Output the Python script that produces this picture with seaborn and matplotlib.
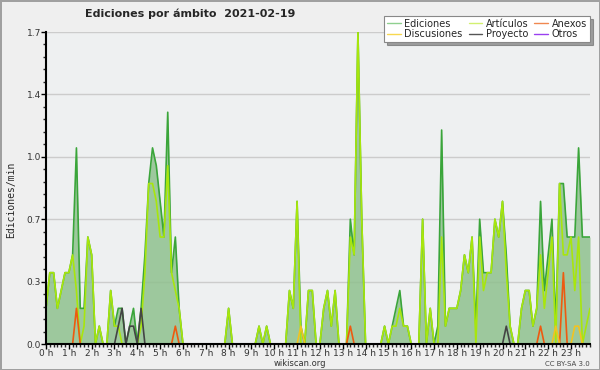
import numpy as np
import pandas as pd
import seaborn as sns
import matplotlib
matplotlib.use("Agg")
import matplotlib.pyplot as plt
from matplotlib.ticker import MultipleLocator, FixedLocator, FuncFormatter
from matplotlib.lines import Line2D

# edits per minute, one value every 10 minutes (00:00 .. 23:50)
ediciones = [
    0.2, 0.4, 0.4, 0.2, 0.3, 0.4, 0.4, 0.5, 1.1, 0.2, 0.2, 0.6,
    0.5, 0, 0.1, 0, 0, 0.3, 0.1, 0.2, 0.2, 0, 0.1, 0.2,
    0, 0.2, 0.5, 0.9, 1.1, 1.0, 0.8, 0.6, 1.3, 0.4, 0.6, 0.2,
    0, 0, 0, 0, 0, 0, 0, 0, 0, 0, 0, 0,
    0.2, 0, 0, 0, 0, 0, 0, 0, 0.1, 0, 0.1, 0,
    0, 0, 0, 0, 0.3, 0.2, 0.8, 0.1, 0, 0.3, 0.3, 0,
    0, 0.2, 0.3, 0.1, 0.3, 0, 0, 0, 0.7, 0.5, 1.75, 0.7,
    0, 0, 0, 0, 0, 0.1, 0, 0.1, 0.2, 0.3, 0.1, 0.1,
    0, 0, 0, 0.7, 0, 0.2, 0, 0.1, 1.2, 0.1, 0.2, 0.2,
    0.2, 0.3, 0.5, 0.4, 0.6, 0.1, 0.7, 0.4, 0.4, 0.4, 0.7, 0.6,
    0.8, 0.5, 0.1, 0, 0, 0.2, 0.3, 0.3, 0.1, 0.2, 0.8, 0.3,
    0.5, 0.7, 0.1, 0.9, 0.9, 0.6, 0.6, 0.6, 1.1, 0.6, 0.6, 0.6,
]
articulos = [
    0.2, 0.4, 0.4, 0.2, 0.3, 0.4, 0.4, 0.5, 0.3, 0, 0.1, 0.6,
    0.5, 0, 0.1, 0, 0, 0.3, 0.1, 0.1, 0, 0, 0, 0,
    0, 0.1, 0.4, 0.9, 0.9, 0.8, 0.6, 0.6, 1.0, 0.4, 0.3, 0.2,
    0, 0, 0, 0, 0, 0, 0, 0, 0, 0, 0, 0,
    0.2, 0, 0, 0, 0, 0, 0, 0, 0.1, 0, 0.1, 0,
    0, 0, 0, 0, 0.3, 0.2, 0.8, 0, 0, 0.3, 0.3, 0,
    0, 0.2, 0.3, 0.1, 0.3, 0, 0, 0, 0.6, 0.5, 1.75, 0.7,
    0, 0, 0, 0, 0, 0.1, 0, 0.1, 0.1, 0.2, 0.1, 0.1,
    0, 0, 0, 0.7, 0, 0.2, 0, 0, 0.6, 0.1, 0.2, 0.2,
    0.2, 0.3, 0.5, 0.4, 0.6, 0, 0.6, 0.3, 0.4, 0.4, 0.7, 0.6,
    0.8, 0.4, 0.1, 0, 0, 0.2, 0.3, 0.3, 0.1, 0.2, 0.5, 0.2,
    0.4, 0.6, 0, 0.9, 0.5, 0.5, 0.6, 0.3, 0.6, 0, 0.1, 0.2,
]
# sparse series: {slot index: value}, zero elsewhere
anexos_pts = {8: 0.2, 34: 0.1, 80: 0.1, 130: 0.1, 136: 0.4}
discusiones_pts = {67: 0.1, 134: 0.1, 139: 0.1, 140: 0.1}
proyecto_pts = {19: 0.1, 20: 0.2, 22: 0.1, 23: 0.1, 25: 0.2, 121: 0.1}
otros_pts = {}

hour_labels = [f"{h} h" for h in range(24)]
y_ticks = [0, 0.35, 0.7, 1.05, 1.4, 1.75]

colors = {
    "Ediciones": "#3aa53a",
    "Artículos": "#a8e60c",
    "Anexos": "#ee5a10",
    "Discusiones": "#f2c320",
    "Proyecto": "#444444",
    "Otros": "#9a40f0",
}
legend_colors = {
    "Ediciones": "#8fd08f",
    "Artículos": "#d2f070",
    "Anexos": "#f08850",
    "Discusiones": "#f8d850",
    "Proyecto": "#555555",
    "Otros": "#9a40f0",
}


def expand(pts, n=144):
    vals = np.zeros(n)
    for k, v in pts.items():
        vals[k] = v
    return vals


hours = np.arange(144) / 6
series = {
    "Ediciones": np.array(ediciones),
    "Artículos": np.array(articulos),
    "Anexos": expand(anexos_pts),
    "Discusiones": expand(discusiones_pts),
    "Proyecto": expand(proyecto_pts),
    "Otros": expand(otros_pts),
}
df = pd.concat([pd.DataFrame({"hora": hours, "valor": v, "ambito": k})
                for k, v in series.items()], ignore_index=True)

sns.set_theme(style="white")
plt.rcParams["font.family"] = ["DejaVu Sans"]

fig = plt.figure(figsize=(6, 3.7), dpi=100, facecolor="#efefef")
fig.patch.set_edgecolor("#a0a0a0")
fig.patch.set_linewidth(2)
ax = fig.add_axes([46 / 600, 1 - 344 / 370, 544 / 600, 312 / 370])
ax.set_facecolor("#eef0f1")

ax.fill_between(hours, series["Ediciones"], color="#8fc18e", alpha=0.85,
                linewidth=0, zorder=1)
sns.lineplot(data=df, x="hora", y="valor", hue="ambito",
             hue_order=["Ediciones", "Artículos", "Anexos", "Discusiones",
                        "Proyecto", "Otros"],
             palette=colors, linewidth=1.2, legend=False, ax=ax, zorder=2)

ax.set_xlim(0, 143 / 6)
ax.set_ylim(0, 1.75)
ax.xaxis.set_major_locator(FixedLocator(range(24)))
ax.set_xticklabels(hour_labels)
ax.xaxis.set_minor_locator(MultipleLocator(1 / 6))
ax.yaxis.set_major_locator(FixedLocator(y_ticks))
ax.yaxis.set_major_formatter(FuncFormatter(
    lambda v, p: f"{np.floor(v * 10 + 1e-6) / 10:.1f}"))
ax.yaxis.set_minor_locator(MultipleLocator(0.07))
ax.tick_params(axis="both", which="major", labelsize=6.5, colors="black",
               labelcolor="#333333", length=3.5, width=1, pad=0,
               bottom=True, left=True)
ax.tick_params(axis="both", which="minor", length=2.5, width=1,
               bottom=True, left=True)
ax.set_xlabel("")
ax.set_ylabel("")
ax.grid(axis="y", color="#cccccc", linewidth=1)
ax.set_axisbelow(True)
for side in ["top", "right"]:
    ax.spines[side].set_visible(False)
for side in ["left", "bottom"]:
    ax.spines[side].set_color("black")
    ax.spines[side].set_linewidth(1.5)
    ax.spines[side].set_zorder(5)

fig.text(85 / 600, 1 - 14 / 370, "Ediciones por ámbito  2021-02-19",
         fontsize=8, fontweight="bold", ha="left", va="center")
fig.text(11 / 600, 1 - 200 / 370, "Ediciones/min", rotation=90,
         fontsize=7, family="DejaVu Sans Mono", ha="center", va="center")
fig.text(0.5, 1 - 363.5 / 370, "wikiscan.org", fontsize=6, color="#333333",
         ha="center", va="center")
fig.text(590 / 600, 1 - 363.5 / 370, "CC BY-SA 3.0", fontsize=5,
         color="#444444", ha="right", va="center")

names = ["Ediciones", "Discusiones", "Artículos", "Proyecto", "Anexos", "Otros"]
handles = [Line2D([], [], color=legend_colors[n], linewidth=1) for n in names]
leg = fig.legend(handles, names, ncol=3, loc="upper right",
                 bbox_to_anchor=(595 / 600, 1 - 11 / 370), fontsize=7,
                 handlelength=1.4, handletextpad=0.4, columnspacing=0.6,
                 labelspacing=0.05, borderpad=0.3, fancybox=False,
                 shadow=True, framealpha=1, edgecolor="#888888")
leg.get_frame().set_linewidth(0.8)

fig.savefig("out.png", dpi=100, facecolor=fig.get_facecolor(),
            edgecolor=fig.get_edgecolor())
